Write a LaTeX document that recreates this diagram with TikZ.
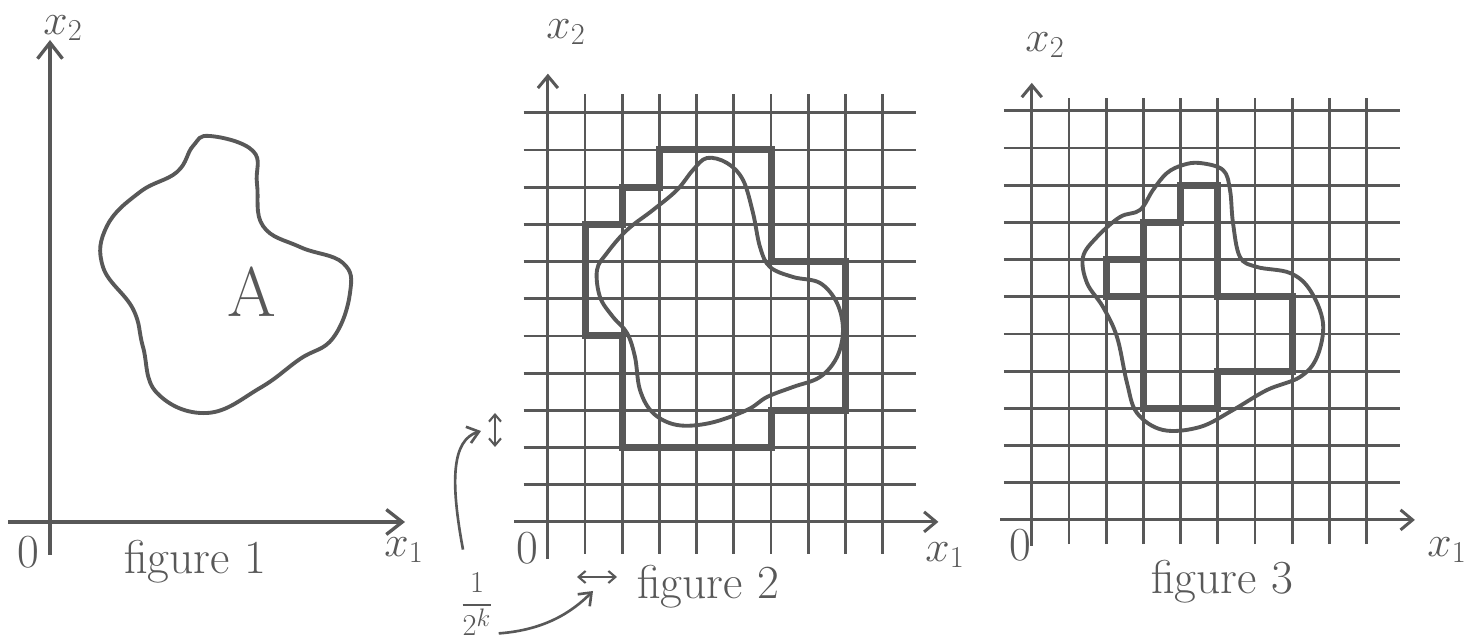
\documentclass[tikz,border=0pt]{standalone}
\usepackage{amsmath}
\usepackage{xcolor}
\usepackage{tikz}
\usetikzlibrary{arrows.meta,positioning}
\definecolor{pencil}{RGB}{88,88,88}

\begin{document}
\begin{tikzpicture}[
  x=0.02cm, y=-0.02cm,
  axis/.style={draw=pencil,line width=1.9pt,-{Straight Barb[length=3.2mm,width=5mm,line width=1.9pt]}},
  gaxis/.style={draw=pencil,line width=1.7pt,-{Straight Barb[length=2.4mm,width=4mm,line width=1.7pt]}},
  gline/.style={draw=pencil,line width=1.6pt},
  stair/.style={draw=pencil,line width=4pt,line join=miter},
  blob/.style={draw=pencil,line width=2.2pt},
  span/.style={draw=pencil,line width=1.2pt,{Straight Barb[length=1.4mm,width=2.4mm]}-{Straight Barb[length=1.4mm,width=2.4mm]}},
  pointer/.style={draw=pencil,line width=1.5pt,-{Straight Barb[length=2.2mm,width=3.4mm]}},
  lbl/.style={text=pencil,font=\fontsize{27}{32}\selectfont,inner sep=0pt}
]
\fill[white] (0,0) rectangle (1472,644);
\useasboundingbox (0,0) rectangle (1472,644);

% figure 1
\coordinate (ya1) at (50,555);
\coordinate (yb1) at (50,40);
\coordinate (xa1) at (8,522);
\coordinate (xb1) at (405,522);
\draw[axis] (ya1) -- (yb1);
\draw[axis] (xa1) -- (xb1);
\draw[blob] plot[smooth cycle,tension=0.7] coordinates {
  (210,136) (253,151) (257,184) (263,226) (300,247) (343,263) (350,293)
  (333,338) (300,359) (260,388) (207,413) (157,393) (143,347) (133,309)
  (103,267) (107,226) (140,192) (177,172) (193,146)};
\node[font=\fontsize{40}{44}\selectfont,text=pencil,inner sep=0pt] (setA) at (252,292) {A};
\node[lbl] (xtwo1) at (63,28) {$x_2$};
\node[lbl] (zero1) at (28,552) {0};
\node[lbl] (xone1) at (404,550) {$x_1$};
\node[lbl] (fig1) at (195,562) {figure 1};

% figure 2
\begin{scope}[xshift=10.96cm,yshift=-10.44cm,x=0.744cm,y=0.744cm]
  \foreach \i in {1,...,9} \draw[gline] (\i,-0.85) -- (\i,11.5);
  \foreach \k in {1,...,11} \draw[gline] (-0.65,\k) -- (9.9,\k);
  \coordinate (ya2) at (0,-1.0);
  \coordinate (yb2) at (0,12.05);
  \coordinate (xa2) at (-0.9,0);
  \coordinate (xb2) at (10.5,0);
  \draw[gaxis] (ya2) -- (yb2);
  \draw[gaxis] (xa2) -- (xb2);
  \draw[stair] (3,10) -- (6,10) -- (6,7) -- (8,7) -- (8,3) -- (6,3) -- (6,2)
    -- (2,2) -- (2,5) -- (1,5) -- (1,8) -- (2,8) -- (2,9) -- (3,9) -- cycle;
\end{scope}
\draw[blob] plot[smooth cycle,tension=0.6] coordinates {
  (707,158) (727,163) (743,180) (753,213) (760,247) (770,267) (793,277)
  (820,283) (837,303) (843,330) (837,357) (820,377) (793,387) (767,397)
  (747,410) (710,423) (677,425) (653,413) (640,390) (635,357) (627,333)
  (613,317) (600,297) (597,270) (607,253) (627,230) (653,210) (677,190)
  (693,170)};
\node[lbl] (xtwo2) at (566,32) {$x_2$};
\node[lbl] (zero2) at (527,548) {0};
\node[lbl] (xone2) at (945,555) {$x_1$};
\node[lbl] (fig2) at (708,587) {figure 2};

% scale of one cell
\coordinate (ha) at (577,577);
\coordinate (hb) at (617,577);
\coordinate (va) at (495,413);
\coordinate (vb) at (495,447);
\draw[span] (ha) -- (hb);
\draw[span] (va) -- (vb);
\node[text=pencil,font=\fontsize{19}{21}\selectfont,inner sep=0pt] (cell) at (477,604) {$\dfrac{1}{2^k}$};
\coordinate (vtip) at (481,431);
\coordinate (htip) at (593,591);
\draw[pointer] ([xshift=-0.28cm,yshift=0.45cm]cell.north) .. controls (450,480) and (452,440) .. (vtip);
\draw[pointer] ([xshift=0.1cm,yshift=0.05cm]cell.south east) .. controls (545,630) and (572,612) .. (htip);

% figure 3
\begin{scope}[xshift=20.64cm,yshift=-10.4cm,x=0.744cm,y=0.744cm]
  \foreach \i in {1,...,9} \draw[gline] (\i,-0.65) -- (\i,11.35);
  \foreach \k in {1,...,11} \draw[gline] (-0.75,\k) -- (9.9,\k);
  \coordinate (ya3) at (0,-0.7);
  \coordinate (yb3) at (0,11.75);
  \coordinate (xa3) at (-0.85,0);
  \coordinate (xb3) at (10.3,0);
  \draw[gaxis] (ya3) -- (yb3);
  \draw[gaxis] (xa3) -- (xb3);
  \draw[stair] (4,9) -- (5,9) -- (5,6) -- (7,6) -- (7,4) -- (5,4) -- (5,3)
    -- (3,3) -- (3,6) -- (2,6) -- (2,7) -- (3,7) -- (3,8) -- (4,8) -- cycle;
  \draw[stair] (3,6) -- (3,7);
\end{scope}
\draw[blob] plot[smooth cycle,tension=0.6] coordinates {
  (1200,163) (1223,170) (1230,190) (1233,223) (1240,257) (1257,267)
  (1290,273) (1310,290) (1323,323) (1317,357) (1300,377) (1267,390)
  (1233,410) (1200,427) (1163,430) (1137,413) (1127,383) (1117,337)
  (1103,307) (1087,283) (1083,257) (1097,237) (1120,217) (1140,210)
  (1153,190) (1167,173) (1183,165)};
\node[lbl] (xtwo3) at (1045,45) {$x_2$};
\node[lbl] (zero3) at (1020,545) {0};
\node[lbl] (xone3) at (1447,550) {$x_1$};
\node[lbl] (fig3) at (1222,582) {figure 3};
\end{tikzpicture}
\end{document}
